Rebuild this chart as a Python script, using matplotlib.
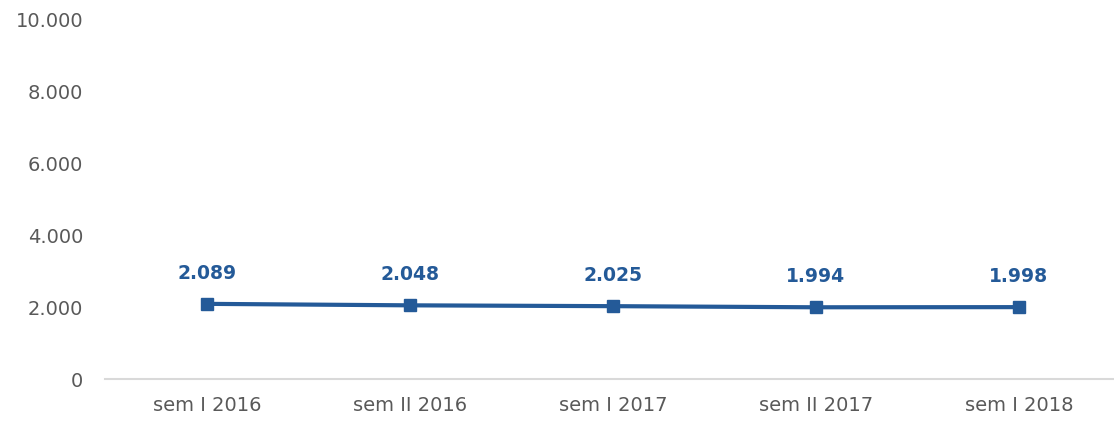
import matplotlib
matplotlib.use('Agg')
import matplotlib.pyplot as plt
from matplotlib.ticker import FuncFormatter

# semestri e valori
semestri = ['sem I 2016', 'sem II 2016', 'sem I 2017', 'sem II 2017', 'sem I 2018']
valori = [2089, 2048, 2025, 1994, 1998]
y_ticks = [0, 2000, 4000, 6000, 8000, 10000]

blu = '#245A98'
grigio = '#595959'


def punto_migliaia(v, pos=None):
    return f'{v:,.0f}'.replace(',', '.')


plt.rcParams['font.family'] = ['DejaVu Sans']

fig = plt.figure(figsize=(11.14, 4.24), dpi=100)
ax = fig.add_axes([0.0947, 0.106, 0.911, 0.849])

x = list(range(len(semestri)))
ax.plot(x, valori, color=blu, linewidth=3, marker='s', markersize=9,
        solid_capstyle='round')

for xi, v in zip(x, valori):
    ax.annotate(punto_migliaia(v), (xi, v), xytext=(0, 22), textcoords='offset points',
                ha='center', va='center', fontsize=13.5, fontweight='bold', color=blu)

ax.set_xlim(-0.5, 4.5)
ax.set_ylim(0, 10000)
ax.set_xticks(x)
ax.set_xticklabels(semestri)
ax.set_yticks(y_ticks)
ax.yaxis.set_major_formatter(FuncFormatter(punto_migliaia))

ax.tick_params(axis='both', length=0, labelsize=14, colors=grigio)
ax.tick_params(axis='y', pad=16)
ax.tick_params(axis='x', pad=12)

for lato in ['top', 'right', 'left']:
    ax.spines[lato].set_visible(False)
ax.spines['bottom'].set_color('#D9D9D9')
ax.spines['bottom'].set_linewidth(1.5)

fig.savefig('out.png', dpi=100)
